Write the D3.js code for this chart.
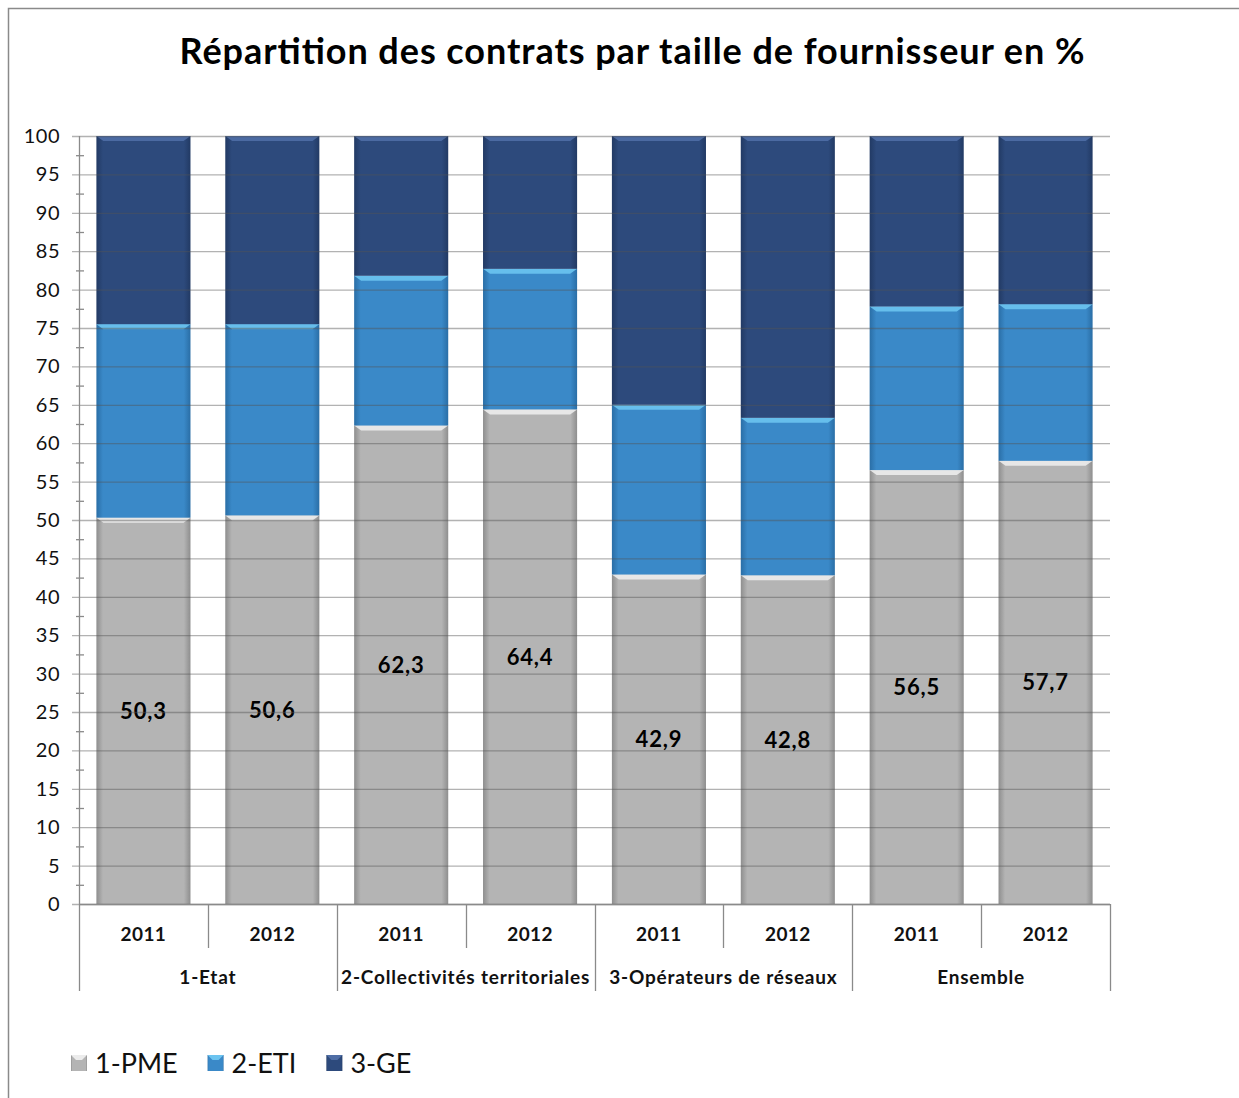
<!DOCTYPE html>
<html>
<head>
<meta charset="utf-8">
<script src="https://cdn.jsdelivr.net/npm/d3@7"></script>
<style>
  body { margin: 0; background: #fff; }
  svg { font-family: Lato, "Open Sans", sans-serif; }
</style>
</head>
<body>
<svg id="chart" width="1239" height="1098"></svg>
<script>
// data
const groups = ["1-Etat", "2-Collectivités territoriales", "3-Opérateurs de réseaux", "Ensemble"];
const years = ["2011", "2012"];
const seriesNames = ["1-PME", "2-ETI", "3-GE"];
const pme = [50.3, 50.6, 62.3, 64.4, 42.9, 42.8, 56.5, 57.7];
const eti = [25.2, 24.9, 19.5, 18.3, 22.1, 20.5, 21.3, 20.4];
const ge  = [24.5, 24.5, 18.2, 17.3, 35.0, 36.7, 22.2, 21.9];
const yTicks = d3.range(0, 101, 5);
const colors = ["#b4b4b4", "#3a89c8", "#2d4a7c"];
const edgeColors = ["#8e8e8e", "#2a6ea6", "#223a64"];
const topColors = ["#ececec", "#6cc4f0", "#4f6ea6"];

const svg = d3.select("#chart");

// outer frame of the chart
svg.append("rect")
    .attr("x", 8.5).attr("y", 8.5)
    .attr("width", 1300).attr("height", 1200)
    .attr("fill", "none")
    .attr("stroke", "#8a8a8a")
    .attr("stroke-width", 1.5);

svg.append("text")
    .attr("x", 632).attr("y", 64)
    .attr("text-anchor", "middle")
    .attr("font-size", 36)
    .attr("font-weight", "bold")
    .attr("fill", "#000")
    .attr("textLength", 905)
    .attr("lengthAdjust", "spacing")
    .text("Répartition des contrats par taille de fournisseur en %");

// rows for the stack, one per bar
const rows = [];
groups.forEach((g, gi) => {
    years.forEach((yr, yi) => {
        const i = gi * 2 + yi;
        rows.push({key: g + "|" + yr, group: g, year: yr,
            "1-PME": pme[i], "2-ETI": eti[i], "3-GE": ge[i]});
    });
});

const plotLeft = 79, plotRight = 1110, plotTop = 136, plotBottom = 904;
const x = d3.scaleBand()
    .domain(rows.map(d => d.key))
    .range([plotLeft, plotRight])
    .paddingInner(0.27)
    .paddingOuter(0.135);
const y = d3.scaleLinear().domain([0, 100]).range([plotBottom, plotTop]);

const stacked = d3.stack().keys(seriesNames)(rows);

// gradients giving the bars their rounded sides
const defs = svg.append("defs");
seriesNames.forEach((s, si) => {
    const gr = defs.append("linearGradient")
        .attr("id", "grad" + si)
        .attr("x1", "0").attr("x2", "1").attr("y1", "0").attr("y2", "0");
    gr.append("stop").attr("offset", "0").attr("stop-color", edgeColors[si]);
    gr.append("stop").attr("offset", "0.07").attr("stop-color", colors[si]);
    gr.append("stop").attr("offset", "0.93").attr("stop-color", colors[si]);
    gr.append("stop").attr("offset", "1").attr("stop-color", edgeColors[si]);
});

const barG = svg.append("g");
const layer = barG.selectAll("g.layer")
    .data(stacked)
    .join("g")
    .attr("class", "layer");

layer.each(function(s, si) {
    const g = d3.select(this);
    g.selectAll("rect")
        .data(s)
        .join("rect")
        .attr("x", d => x(d.data.key))
        .attr("y", d => y(d[1]))
        .attr("width", x.bandwidth())
        .attr("height", d => y(d[0]) - y(d[1]))
        .attr("fill", "url(#grad" + si + ")");
    // bevel highlight at the top of every segment
    g.selectAll("path.bevel")
        .data(s)
        .join("path")
        .attr("class", "bevel")
        .attr("d", d => {
            const x0 = x(d.data.key), x1 = x0 + x.bandwidth(), yt = y(d[1]), h = 5;
            return `M${x0},${yt}L${x1},${yt}L${x1 - 7},${yt + h}L${x0 + 7},${yt + h}Z`;
        })
        .attr("fill", topColors[si])
        .attr("opacity", 0.9);
});

// gridlines drawn over the bars
svg.append("g")
    .selectAll("line")
    .data(yTicks)
    .join("line")
    .attr("x1", plotLeft - 7).attr("x2", plotRight)
    .attr("y1", d => y(d) + 0.5).attr("y2", d => y(d) + 0.5)
    .attr("stroke", "#555")
    .attr("stroke-opacity", 0.45)
    .attr("stroke-width", 1.3);

// minor ticks
svg.append("g")
    .selectAll("line")
    .data(yTicks.slice(0, -1).map(d => d + 2.5))
    .join("line")
    .attr("x1", plotLeft - 3).attr("x2", plotLeft + 5)
    .attr("y1", d => y(d) + 0.5).attr("y2", d => y(d) + 0.5)
    .attr("stroke", "#8a8a8a")
    .attr("stroke-width", 1.3);

// y axis line and labels
svg.append("line")
    .attr("x1", plotLeft + 0.5).attr("x2", plotLeft + 0.5)
    .attr("y1", plotTop).attr("y2", plotBottom)
    .attr("stroke", "#8a8a8a").attr("stroke-width", 1.3);

const yAxis = svg.append("g")
    .attr("transform", `translate(${plotLeft - 19},0)`)
    .call(d3.axisLeft(y).tickValues(yTicks).tickSize(0).tickPadding(0));
yAxis.select(".domain").remove();
yAxis.selectAll("text")
    .attr("font-family", "Lato, sans-serif")
    .attr("font-size", 20)
    .attr("letter-spacing", 0.5)
    .attr("fill", "#111");

// data labels for 1-PME
barG.append("g")
    .selectAll("text")
    .data(stacked[0])
    .join("text")
    .attr("x", d => x(d.data.key) + x.bandwidth() / 2)
    .attr("y", d => y((d[0] + d[1]) / 2) + 8)
    .attr("text-anchor", "middle")
    .attr("font-size", 22)
    .attr("font-weight", "bold")
    .attr("letter-spacing", 0.8)
    .attr("fill", "#000")
    .text(d => d3.format(".1f")(d[1]).replace(".", ","));

// category axis with two levels
const step = x.step();
const catG = svg.append("g").attr("stroke", "#8a8a8a").attr("stroke-width", 1.3);
catG.append("line")
    .attr("x1", plotLeft).attr("x2", plotRight)
    .attr("y1", plotBottom + 0.5).attr("y2", plotBottom + 0.5);
rows.forEach((r, i) => {
    const xe = plotLeft + step * i;
    const isGroupEdge = i % 2 === 0;
    catG.append("line")
        .attr("x1", Math.round(xe) + 0.5).attr("x2", Math.round(xe) + 0.5)
        .attr("y1", plotBottom).attr("y2", isGroupEdge ? plotBottom + 87 : plotBottom + 44);
});
catG.append("line")
    .attr("x1", plotRight + 0.5).attr("x2", plotRight + 0.5)
    .attr("y1", plotBottom).attr("y2", plotBottom + 87);

svg.append("g")
    .selectAll("text")
    .data(rows)
    .join("text")
    .attr("x", d => x(d.key) + x.bandwidth() / 2)
    .attr("y", plotBottom + 37)
    .attr("text-anchor", "middle")
    .attr("font-size", 19)
    .attr("font-weight", "bold")
    .attr("letter-spacing", 0.4)
    .attr("fill", "#111")
    .text(d => d.year);

svg.append("g")
    .selectAll("text")
    .data(groups)
    .join("text")
    .attr("x", (d, i) => plotLeft + step * (2 * i + 1))
    .attr("y", plotBottom + 80)
    .attr("text-anchor", "middle")
    .attr("font-size", 19)
    .attr("font-weight", "bold")
    .attr("letter-spacing", 0.8)
    .attr("fill", "#111")
    .text(d => d);

// legend
const legend = svg.append("g").attr("transform", "translate(71,1063)");
let lx = 0;
seriesNames.forEach((s, si) => {
    legend.append("rect")
        .attr("x", lx).attr("y", -8)
        .attr("width", 16).attr("height", 16)
        .attr("fill", "url(#grad" + si + ")");
    legend.append("path")
        .attr("d", `M${lx},-8L${lx + 16},-8L${lx + 11},-3L${lx + 5},-3Z`)
        .attr("fill", topColors[si]);
    const t = legend.append("text")
        .attr("x", lx + 24).attr("y", 10)
        .attr("font-size", 27)
        .attr("fill", "#111")
        .text(s);
    lx += 24 + t.node().getComputedTextLength() + 30;
});
</script>
</body>
</html>
